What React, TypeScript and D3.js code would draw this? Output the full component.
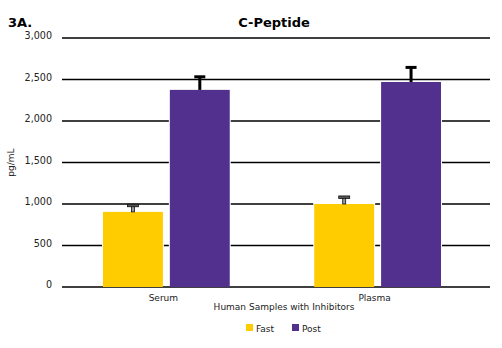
import React from "react";
import * as d3 from "d3";

const categories = ["Serum", "Plasma"];
const seriesNames = ["Fast", "Post"];
const fastValues = [905, 1000];
const postValues = [2375, 2470];
const fastErrors = [80, 85];
const postErrors = [160, 178];
const yTicks = [0, 500, 1000, 1500, 2000, 2500, 3000];
const colors = ["#FFCC00", "#52308E"];

const W = 502, H = 348;
const left = 62, right = 490, top = 38, bottom = 287;

export default function App() {
  const y = d3.scaleLinear().domain([0, 3000]).range([bottom, top]);
  const x0 = d3.scaleBand<string>().domain(categories).range([58, 486]).paddingInner(0.4).paddingOuter(0.213);
  const x1 = d3.scaleBand<string>().domain(seriesNames).range([0, x0.bandwidth()]).paddingInner(0.104);
  const fmt = d3.format(",");
  const values = [fastValues, postValues];
  const errors = [fastErrors, postErrors];
  const font = "'DejaVu Sans', Verdana, sans-serif";
  return (
    <svg width={W} height={H} style={{ position: "absolute", left: 0, top: 0, background: "#fff" }} fontFamily={font}>
      <text x={8} y={27} fontSize={13} fontWeight="bold">3A.</text>
      <text x={274} y={27} fontSize={13} fontWeight="bold" textAnchor="middle">C-Peptide</text>
      {yTicks.map((t) => (
        <g key={t}>
          <line x1={left} x2={right} y1={y(t)} y2={y(t)} stroke="#000" strokeWidth={1.3} />
          <text x={52} y={y(t) + 1} fontSize={9.6} textAnchor="end" fill="#222">{fmt(t)}</text>
        </g>
      ))}
      <text transform={`translate(14,${(top + bottom) / 2}) rotate(-90)`} fontSize={9} textAnchor="middle" fill="#222">pg/mL</text>
      {categories.map((c, ci) => (
        <g key={c} transform={`translate(${x0(c)},0)`}>
          {seriesNames.map((s, si) => {
            const v = values[si][ci];
            const e = errors[si][ci];
            const bx = x1(s)!;
            const bw = x1.bandwidth();
            const cx = bx + bw / 2;
            return (
              <g key={s}>
                <rect x={bx - 1} y={y(v) - 1} width={bw + 2} height={bottom - y(v)} fill="#fff" />
                <rect x={bx} y={y(v)} width={bw} height={bottom - y(v)} fill={colors[si]} />
                {si === 0 ? (
                  <g>
                    <rect x={cx - 1.5} y={y(v + e)} width={3} height={y(v) - y(v + e)} fill="#999" stroke="#111" strokeWidth={0.8} />
                    <rect x={cx - 5.5} y={y(v + e) - 1} width={11} height={2.5} fill="#555" stroke="#111" strokeWidth={0.8} />
                  </g>
                ) : (
                  <g>
                    <rect x={cx - 1.5} y={y(v + e)} width={3} height={y(v) - y(v + e)} fill="#000" />
                    <rect x={cx - 5.5} y={y(v + e) - 1.3} width={11} height={3} fill="#000" />
                  </g>
                )}
              </g>
            );
          })}
          <text x={x0.bandwidth() / 2 - 3} y={301} fontSize={9} textAnchor="middle" fill="#222">{c}</text>
        </g>
      ))}
      <text x={284} y={310} fontSize={9} textAnchor="middle" fill="#222">Human Samples with Inhibitors</text>
      {seriesNames.map((s, i) => (
        <g key={s} transform={`translate(${i === 0 ? 246 : 292},324)`}>
          <rect x={0} y={0} width={7} height={7} fill={colors[i]} />
          <text x={10} y={7.5} fontSize={9} fill="#222">{s}</text>
        </g>
      ))}
    </svg>
  );
}
